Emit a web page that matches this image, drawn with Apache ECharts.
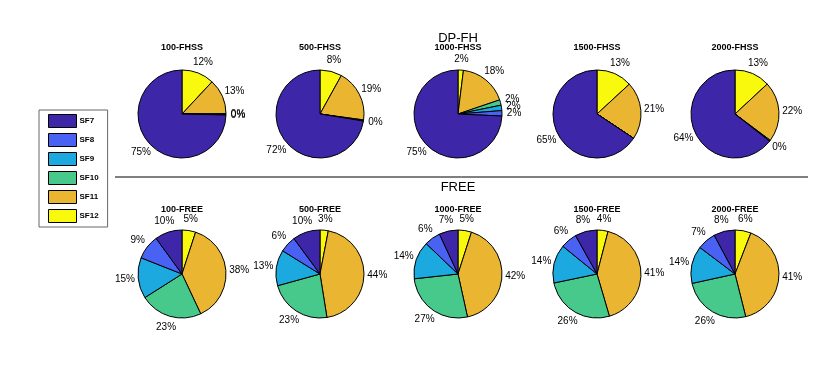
<!DOCTYPE html>
<html>
<head>
	<meta charset="utf-8">
	<title>DP-FH vs FREE</title>
	<script type="text/javascript" src="https://cdn.jsdelivr.net/npm/echarts@6/dist/echarts.min.js"></script>
</head>
<body style="margin:0;background:#fff;">
	<div id="main" style="width: 835px;height:369px;"></div>
	<script type="text/javascript">
		// slice order: clockwise from 12 o'clock
		var SLICES = ['SF12', 'SF11', 'SF10', 'SF9', 'SF8', 'SF7'];
		var LEGEND = ['SF7', 'SF8', 'SF9', 'SF10', 'SF11', 'SF12'];
		var COLORS = ['#F9F90E', '#EAB632', '#46C98A', '#1CA9DF', '#4A62F4', '#3E26A8'];

		var FHSS_TITLES = ['100-FHSS', '500-FHSS', '1000-FHSS', '1500-FHSS', '2000-FHSS'];
		var FHSS_100  = [12, 13, 0.3, 0.2, 0, 75];
		var FHSS_500  = [8, 19, 0.4, 0, 0, 72];
		var FHSS_1000 = [2, 18, 2, 2, 2, 75];
		var FHSS_1500 = [13, 21, 0, 0, 0, 65];
		var FHSS_2000 = [13, 22, 0.4, 0, 0, 64];

		var FREE_TITLES = ['100-FREE', '500-FREE', '1000-FREE', '1500-FREE', '2000-FREE'];
		var FREE_100  = [5, 38, 23, 15, 9, 10];
		var FREE_500  = [3, 44, 23, 13, 6, 10];
		var FREE_1000 = [5, 42, 27, 14, 6, 7];
		var FREE_1500 = [4, 41, 26, 14, 6, 8];
		var FREE_2000 = [6, 41, 26, 14, 7, 8];

		var COL_X = [182, 320, 458, 597, 735];
		var R = 44;
		var rows = [
			{ titles: FHSS_TITLES, values: [FHSS_100, FHSS_500, FHSS_1000, FHSS_1500, FHSS_2000], cy: 114, titleTop: 43 },
			{ titles: FREE_TITLES, values: [FREE_100, FREE_500, FREE_1000, FREE_1500, FREE_2000], cy: 274, titleTop: 205 }
		];

		var FONT = "'Liberation Sans', Arial, Helvetica, sans-serif";
		var centers = [];
		var series = [];
		var titles = [
			{ text: 'DP-FH', left: 458, top: 32, textAlign: 'center', padding: 0,
			  textStyle: { fontSize: 13, fontWeight: 'normal', color: '#000', fontFamily: FONT } },
			{ text: 'FREE', left: 458, top: 181, textAlign: 'center', padding: 0,
			  textStyle: { fontSize: 13, fontWeight: 'normal', color: '#000', fontFamily: FONT } }
		];

		rows.forEach(function (row) {
			row.values.forEach(function (vals, i) {
				centers.push([COL_X[i], row.cy]);
				titles.push({
					text: row.titles[i], left: COL_X[i], top: row.titleTop, textAlign: 'center', padding: 0,
					textStyle: { fontSize: 9, fontWeight: 'bold', color: '#000', fontFamily: FONT }
				});
				series.push({
					type: 'pie',
					name: row.titles[i],
					center: [COL_X[i], row.cy],
					radius: R,
					startAngle: 90,
					clockwise: true,
					avoidLabelOverlap: false,
					animation: false,
					itemStyle: { borderColor: '#000', borderWidth: 1 },
					emphasis: { disabled: true },
					label: {
						position: 'outside',
						fontSize: 10,
						color: '#000',
						fontFamily: FONT,
						distanceToLabelLine: 0,
						formatter: function (p) { return Math.round(p.value) + '%'; }
					},
					labelLine: { show: false, length: 9, length2: 0 },
					labelLayout: function (p) {
						// matlab-like: text centred at 1.2r, nudged outward a little
						var c = centers[p.seriesIndex];
						var r = p.labelRect;
						var right = r.x + r.width / 2 > c[0];
						var ax = right ? r.x : r.x + r.width;
						var ay = r.y + r.height / 2;
						var dx = ax - c[0], dy = ay - c[1];
						var d = Math.sqrt(dx * dx + dy * dy) || 1;
						var s = dx / d, cs = dy / d;
						var wantX = c[0] + 1.2 * R * s + 0.45 * s * r.width / 2;
						var wantY = c[1] + 1.2 * R * cs + 0.5 * cs * r.height / 2;
						return { dx: wantX - (r.x + r.width / 2), dy: wantY - ay };
					},
					data: SLICES.map(function (n, k) {
						return { name: n, value: vals[k], label: { show: vals[k] > 0 } };
					})
				});
			});
		});

		var myChart = echarts.init(document.getElementById('main'));
		var option = {
			color: COLORS,
			textStyle: { fontFamily: FONT },
			title: titles,
			legend: {
				data: LEGEND,
				orient: 'vertical',
				left: 39,
				top: 110,
				padding: [4, 9, 4, 9],
				itemWidth: 28,
				itemHeight: 13,
				itemGap: 5,
				icon: 'rect',
				borderColor: '#666',
				borderWidth: 1,
				selectedMode: false,
				itemStyle: { borderColor: '#000', borderWidth: 1 },
				textStyle: { fontSize: 8, fontWeight: 'bold', color: '#000', fontFamily: FONT, padding: [0, 0, 0, -2] }
			},
			graphic: [{
				type: 'line',
				shape: { x1: 115, y1: 177, x2: 808, y2: 177 },
				style: { stroke: '#000', lineWidth: 1 }
			}],
			series: series
		};
		myChart.setOption(option);
	</script>
</body>
</html>
